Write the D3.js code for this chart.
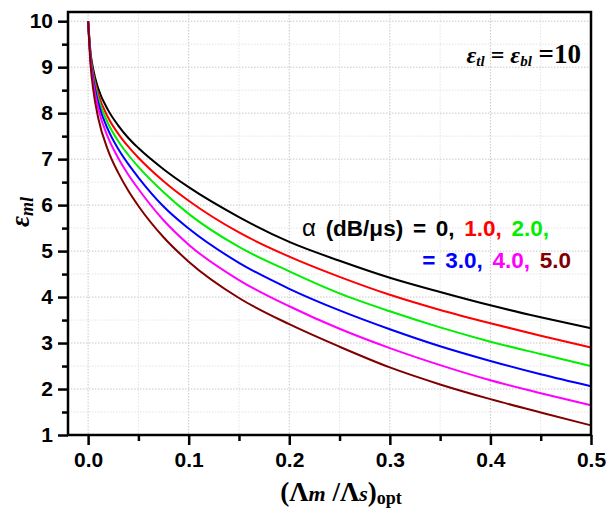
<!DOCTYPE html>
<html>
<head>
<meta charset="utf-8">
<script src="https://cdn.jsdelivr.net/npm/d3@7"></script>
<style>
body { margin:0; background:#fff; }
#container { width:610px; height:509px; }
.tick text { font-family:"Liberation Sans", Arial, sans-serif; font-weight:bold; font-size:21px; }
</style>
</head>
<body>
<div id="container"></div>
<script>

// x values (Lambda_m / Lambda_s)opt
var xVals = [0, 0.0025, 0.005, 0.01, 0.02, 0.03, 0.04, 0.05, 0.075, 0.1, 0.15, 0.2, 0.25, 0.3, 0.35, 0.4, 0.45, 0.5];

// eps_ml for alpha = 0 .. 5 dB/us
var a0 = [10, 9.30, 8.96, 8.54, 8.06, 7.73, 7.46, 7.24, 6.78, 6.39, 5.74, 5.20, 4.79, 4.42, 4.11, 3.82, 3.56, 3.32];
var a1 = [10, 9.24, 8.88, 8.42, 7.90, 7.55, 7.27, 7.03, 6.52, 6.095, 5.405, 4.88, 4.44, 4.05, 3.72, 3.43, 3.16, 2.905];
var a2 = [10, 9.21, 8.82, 8.33, 7.77, 7.39, 7.09, 6.83, 6.28, 5.81, 5.09, 4.56, 4.08, 3.69, 3.34, 3.03, 2.76, 2.50];
var a3 = [10, 9.17, 8.76, 8.23, 7.63, 7.22, 6.89, 6.60, 5.97, 5.49, 4.745, 4.18, 3.71, 3.30, 2.93, 2.61, 2.32, 2.06];
var a4 = [10, 9.13, 8.68, 8.11, 7.46, 7.02, 6.66, 6.35, 5.67, 5.14, 4.37, 3.80, 3.31, 2.89, 2.52, 2.19, 1.91, 1.645];
var a5 = [10, 9.03, 8.53, 7.90, 7.18, 6.70, 6.31, 5.98, 5.30, 4.77, 3.98, 3.41, 2.92, 2.47, 2.10, 1.78, 1.49, 1.21];

var allSeries = [a0, a1, a2, a3, a4, a5];
var colors = ['#000000', '#ff0000', '#00ee00', '#0000ff', '#ff00ff', '#800000'];

var xTicks = [0, 0.1, 0.2, 0.3, 0.4, 0.5];
var xMinor = [0.05, 0.15, 0.25, 0.35, 0.45];
var yTicks = [1, 2, 3, 4, 5, 6, 7, 8, 9, 10];
var yMinor = [1.5, 2.5, 3.5, 4.5, 5.5, 6.5, 7.5, 8.5, 9.5];

// legend labels
var alphaLine1 = ['0, ', '1.0, ', '2.0,'];
var alphaLine2 = ['3.0, ', '4.0, ', '5.0'];

function render() {
	var width = 610, height = 509;
	var margin = {left:68, top:12, right:19, bottom:74};
	var cWidth = width - margin.left - margin.right;
	var cHeight = height - margin.top - margin.bottom;

	var svg = d3.select('#container')
		.append('svg')
		.attr('width', width)
		.attr('height', height);

	var g = svg.append('g')
		.attr('transform', 'translate(' + margin.left + ',' + margin.top + ')');

	var x = d3.scaleLinear().domain([-0.02, 0.5]).range([0, cWidth]);
	var y = d3.scaleLinear().domain([1, 10.2]).range([cHeight, 0]);

	// grid
	g.selectAll('.gminx').data(xMinor).enter().append('line')
		.attr('x1', d => x(d)).attr('x2', d => x(d))
		.attr('y1', 0).attr('y2', cHeight)
		.attr('stroke', '#e4e4e4').attr('stroke-dasharray', '1.5,1.5');
	g.selectAll('.gminy').data(yMinor).enter().append('line')
		.attr('y1', d => y(d)).attr('y2', d => y(d))
		.attr('x1', 0).attr('x2', cWidth)
		.attr('stroke', '#e4e4e4').attr('stroke-dasharray', '1.5,1.5');
	g.selectAll('.gmajx').data(xTicks).enter().append('line')
		.attr('x1', d => x(d)).attr('x2', d => x(d))
		.attr('y1', 0).attr('y2', cHeight)
		.attr('stroke', '#c8c8c8').attr('stroke-dasharray', '1.5,1.5');
	g.selectAll('.gmajy').data(yTicks).enter().append('line')
		.attr('y1', d => y(d)).attr('y2', d => y(d))
		.attr('x1', 0).attr('x2', cWidth)
		.attr('stroke', '#c8c8c8').attr('stroke-dasharray', '1.5,1.5');

	// curves
	var line = d3.line()
		.x((d, i) => x(xVals[i]))
		.y(d => y(d))
		.curve(d3.curveMonotoneX);

	g.selectAll('.curve').data(allSeries).enter().append('path')
		.attr('class', 'curve')
		.attr('d', d => line(d))
		.attr('fill', 'none')
		.attr('stroke', (d, i) => colors[i])
		.attr('stroke-width', 2);

	// axes
	g.append('g')
		.attr('transform', 'translate(0,' + cHeight + ')')
		.call(d3.axisBottom(x).tickValues(xTicks).tickSize(10).tickPadding(7).tickFormat(d3.format('.1f')));
	g.append('g')
		.attr('transform', 'translate(0,' + cHeight + ')')
		.call(d3.axisBottom(x).tickValues(xMinor).tickSize(6).tickFormat(''));
	g.append('g')
		.call(d3.axisLeft(y).tickValues(yTicks).tickSize(10).tickPadding(5).tickFormat(d3.format('d')));
	g.append('g')
		.call(d3.axisLeft(y).tickValues(yMinor).tickSize(6).tickFormat(''));

	g.selectAll('.domain').remove();
	g.selectAll('.tick line').attr('stroke', '#000').attr('stroke-width', 2.5);
	g.selectAll('.tick text').attr('fill', '#000');

	// frame
	g.append('rect')
		.attr('width', cWidth).attr('height', cHeight)
		.attr('fill', 'none').attr('stroke', '#000').attr('stroke-width', 2.5);

	// y title
	var yt = svg.append('text')
		.attr('transform', 'translate(29,212) rotate(-90)')
		.attr('text-anchor', 'middle')
		.attr('font-family', '"Liberation Serif", "Times New Roman", serif')
		.attr('font-style', 'italic')
		.attr('font-weight', 'bold');
	yt.append('tspan').attr('font-size', 27).text('ε');
	yt.append('tspan').attr('font-size', 18).attr('dy', 4).text('ml');

	// x title
	var xt = svg.append('text')
		.attr('x', 341).attr('y', 501)
		.attr('text-anchor', 'middle')
		.attr('font-family', '"Liberation Serif", "Times New Roman", serif')
		.attr('font-weight', 'bold')
		.attr('font-size', 27);
	xt.append('tspan').text('(Λ');
	xt.append('tspan').attr('font-style', 'italic').attr('font-size', 22).text('m');
	xt.append('tspan').text(' /Λ');
	xt.append('tspan').attr('font-style', 'italic').attr('font-size', 22).text('s');
	xt.append('tspan').text(')');
	xt.append('tspan').attr('font-size', 18).attr('dy', 3).text('opt');

	// eps annotation
	var ann = svg.append('text')
		.attr('x', 581).attr('y', 63)
		.attr('text-anchor', 'end')
		.attr('font-family', '"Liberation Serif", "Times New Roman", serif')
		.attr('font-weight', 'bold')
		.attr('font-size', 24);
	ann.append('tspan').attr('font-style', 'italic').text('ε');
	ann.append('tspan').attr('font-style', 'italic').attr('font-size', 15).attr('dy', 3).text('tl');
	ann.append('tspan').attr('dy', -3).text(' = ');
	ann.append('tspan').attr('font-style', 'italic').text('ε');
	ann.append('tspan').attr('font-style', 'italic').attr('font-size', 15).attr('dy', 3).text('bl');
	ann.append('tspan').attr('dy', -3).attr('font-size', 27).text(' =10');

	// alpha legend
	var leg1 = svg.append('text')
		.attr('x', 302).attr('y', 236)
		.attr('font-family', '"Liberation Sans", Arial, sans-serif')
		.attr('font-weight', 'bold')
		.attr('font-size', 22.5)
		.attr('word-spacing', 3.5);
	leg1.append('tspan').attr('font-weight', 'normal').attr('font-size', 24).text('α');
	leg1.append('tspan').text(' (dB/μs) = ');
	alphaLine1.forEach((t, i) => {
		leg1.append('tspan').attr('fill', colors[i]).text(t);
	});

	var leg2 = svg.append('text')
		.attr('x', 571).attr('y', 268)
		.attr('text-anchor', 'end')
		.attr('font-family', '"Liberation Sans", Arial, sans-serif')
		.attr('font-weight', 'bold')
		.attr('font-size', 22.5)
		.attr('word-spacing', 3.5);
	leg2.append('tspan').attr('fill', colors[3]).text('= ');
	alphaLine2.forEach((t, i) => {
		leg2.append('tspan').attr('fill', colors[i + 3]).text(t);
	});
}

render();
</script>
</body>
</html>
